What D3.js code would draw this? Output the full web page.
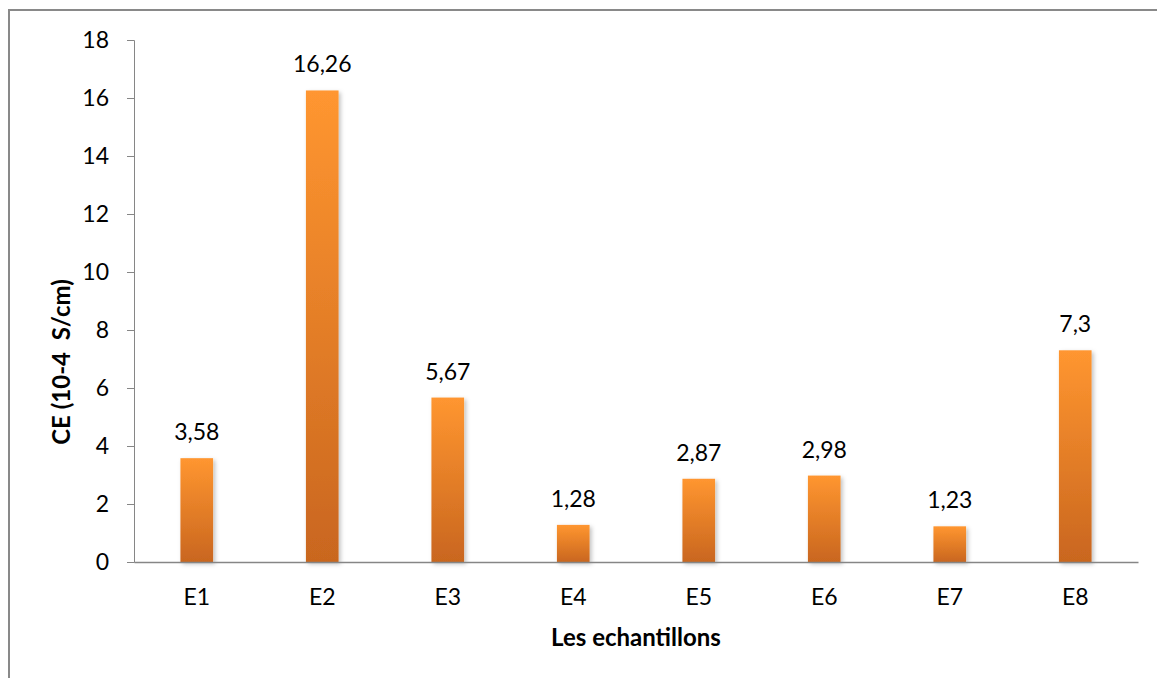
<!DOCTYPE html>
<html>
<head>
<meta charset="utf-8">
<script src="https://cdn.jsdelivr.net/npm/d3@7"></script>
<style>
  body { margin: 0; background: #fff; }
  svg { display: block; font-family: Lato, "Open Sans", sans-serif; }
</style>
</head>
<body>
<div id="chart"></div>
<script>
const width = 1157;
const height = 678;
const margin = { top: 40, right: 19, bottom: 116, left: 134 };

const samples = ['E1', 'E2', 'E3', 'E4', 'E5', 'E6', 'E7', 'E8'];
const ceValues = [3.58, 16.26, 5.67, 1.28, 2.87, 2.98, 1.23, 7.3];
const yTicks = [0, 2, 4, 6, 8, 10, 12, 14, 16, 18];

const svg = d3.select('#chart')
    .append('svg')
    .attr('width', width)
    .attr('height', height);

const defs = svg.append('defs');
const grad = defs.append('linearGradient')
    .attr('id', 'barGrad')
    .attr('x1', 0).attr('y1', 0).attr('x2', 0).attr('y2', 1);
grad.append('stop').attr('offset', '0%').attr('stop-color', '#ff9630');
grad.append('stop').attr('offset', '100%').attr('stop-color', '#c9661f');

const shadow = defs.append('filter')
    .attr('id', 'shadow')
    .attr('x', '-30%').attr('y', '-10%')
    .attr('width', '160%').attr('height', '130%');
shadow.append('feDropShadow')
    .attr('dx', 2).attr('dy', 2)
    .attr('stdDeviation', 2)
    .attr('flood-color', '#000')
    .attr('flood-opacity', 0.25);

// chart frame
svg.append('rect')
    .attr('x', 9).attr('y', 10)
    .attr('width', width)
    .attr('height', height)
    .attr('fill', 'none')
    .attr('stroke', '#898989')
    .attr('stroke-width', 2);

const x = d3.scaleBand()
    .domain(samples)
    .range([margin.left, width - margin.right])
    .paddingInner(0.74)
    .paddingOuter(0.37);

const y = d3.scaleLinear()
    .domain([0, 18])
    .range([height - margin.bottom, margin.top]);

// y axis
const yAxis = svg.append('g')
    .attr('transform', `translate(${margin.left},0)`)
    .call(d3.axisLeft(y).tickValues(yTicks).tickSize(7).tickPadding(18).tickSizeOuter(7));
yAxis.selectAll('path, line').attr('stroke', '#868686');
yAxis.selectAll('text')
    .attr('font-size', '23px')
    .attr('fill', '#000')
    .attr('font-family', 'Lato, sans-serif');

// bars
svg.append('g')
    .selectAll('rect')
    .data(ceValues)
    .join('rect')
      .attr('x', (d, i) => x(samples[i]))
      .attr('y', d => y(d))
      .attr('width', x.bandwidth())
      .attr('height', d => y(0) - y(d))
      .attr('fill', 'url(#barGrad)')
      .attr('filter', 'url(#shadow)');

// x axis
const xAxis = svg.append('g')
    .attr('transform', `translate(0,${y(0)})`)
    .call(d3.axisBottom(x).tickSize(0).tickSizeOuter(0).tickPadding(27));
xAxis.select('.domain').attr('stroke', '#868686').attr('stroke-width', 1.5);
xAxis.selectAll('text')
    .attr('font-size', '23px')
    .attr('fill', '#000')
    .attr('font-family', 'Lato, sans-serif');

// value labels
svg.append('g')
    .selectAll('text')
    .data(ceValues)
    .join('text')
      .attr('x', (d, i) => x(samples[i]) + x.bandwidth() / 2)
      .attr('y', d => y(d) - 18)
      .attr('text-anchor', 'middle')
      .attr('font-size', '23px')
      .text(d => String(d).replace('.', ','));

// axis titles
svg.append('text')
    .attr('x', (margin.left + width - margin.right) / 2)
    .attr('y', 646)
    .attr('text-anchor', 'middle')
    .attr('font-size', '24px')
    .attr('font-weight', 'bold')
    .text('Les echantillons');

svg.append('text')
    .attr('transform', 'translate(70,362) rotate(-90)')
    .attr('text-anchor', 'middle')
    .attr('font-size', '24px')
    .attr('font-weight', 'bold')
    .attr('xml:space', 'preserve')
    .style('white-space', 'pre')
    .text('CE (10-4  S/cm)');
</script>
</body>
</html>
